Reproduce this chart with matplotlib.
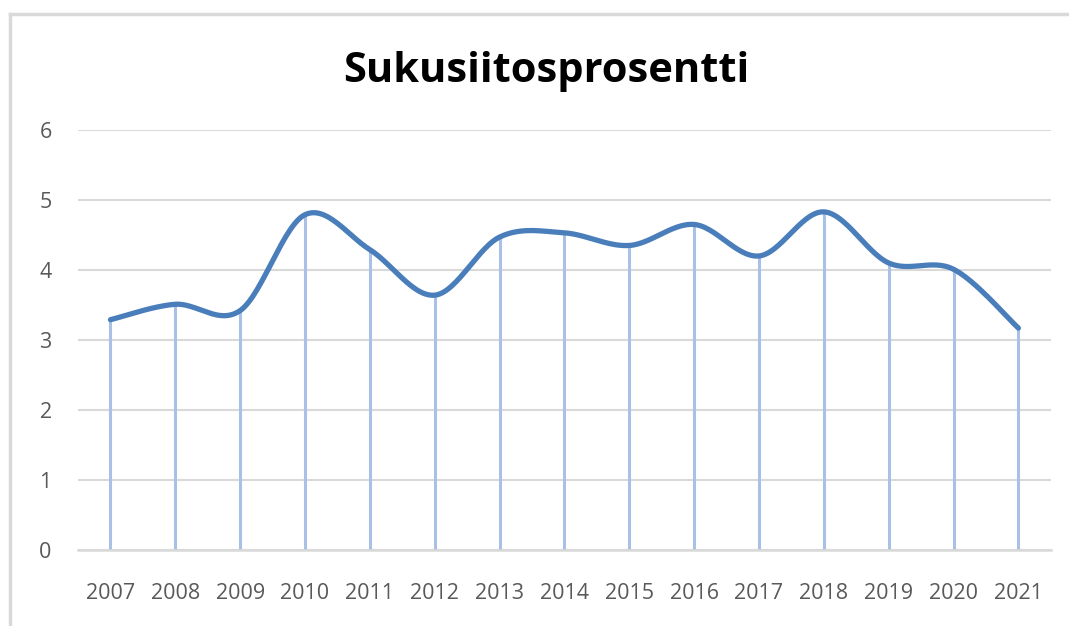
import numpy as np
import matplotlib
matplotlib.use('Agg')
import matplotlib.pyplot as plt
from matplotlib.lines import Line2D

# Data
years = ['2007', '2008', '2009', '2010', '2011', '2012', '2013', '2014',
         '2015', '2016', '2017', '2018', '2019', '2020', '2021']
values = [3.29, 3.51, 3.42, 4.79, 4.29, 3.64, 4.47, 4.53,
          4.35, 4.65, 4.20, 4.83, 4.10, 4.01, 3.17]
yticks = [0, 1, 2, 3, 4, 5, 6]

title = 'Sukusiitosprosentti'
line_col = '#4a7ebb'
drop_col = '#a9c1e6'
grid_col = '#d9d9d9'
text_col = '#595959'


def smooth(x, y, n=30):
    # Catmull-Rom style smoothing, like the "smoothed line" option in a spreadsheet
    x = np.asarray(x, float)
    y = np.asarray(y, float)
    px = np.concatenate([[x[0]], x, [x[-1]]])
    py = np.concatenate([[y[0]], y, [y[-1]]])
    xs, ys = [], []
    t = np.linspace(0, 1, n, endpoint=False)
    for i in range(1, len(px) - 2):
        p0x, p1x, p2x, p3x = px[i - 1], px[i], px[i + 1], px[i + 2]
        p0y, p1y, p2y, p3y = py[i - 1], py[i], py[i + 1], py[i + 2]
        c1x = p1x + (p2x - p0x) / 6.0
        c1y = p1y + (p2y - p0y) / 6.0
        c2x = p2x - (p3x - p1x) / 6.0
        c2y = p2y - (p3y - p1y) / 6.0
        b0 = (1 - t) ** 3
        b1 = 3 * (1 - t) ** 2 * t
        b2 = 3 * (1 - t) * t ** 2
        b3 = t ** 3
        xs.append(b0 * p1x + b1 * c1x + b2 * c2x + b3 * p2x)
        ys.append(b0 * p1y + b1 * c1y + b2 * c2y + b3 * p2y)
    xs.append([x[-1]])
    ys.append([y[-1]])
    return np.concatenate(xs), np.concatenate(ys)


fig = plt.figure(figsize=(10.69, 6.26), dpi=100)
ax = fig.add_axes([0.073, 0.1214, 0.910, 0.671])

xpos = np.arange(len(years))

# drop lines from the points to the axis
ax.vlines(xpos, 0, values, color=drop_col, linewidth=2.2, zorder=2)

sx, sy = smooth(xpos, values)
ax.plot(sx, sy, color=line_col, linewidth=3.8, solid_capstyle='round', zorder=3)

ax.set_xlim(-0.5, len(years) - 0.5)
ax.set_ylim(0, 6)
ax.set_yticks(yticks)
ax.set_xticks(xpos)
ax.set_xticklabels(years)
ax.grid(True, axis='y', color=grid_col, linewidth=1.5)
ax.set_axisbelow(True)
for s in ['top', 'right', 'left']:
    ax.spines[s].set_visible(False)
ax.spines['bottom'].set_color(grid_col)
ax.spines['bottom'].set_linewidth(1.8)
ax.tick_params(length=0, labelcolor=text_col, labelsize=15.5)
ax.tick_params(axis='x', pad=24)
ax.tick_params(axis='y', pad=19)
for lab in ax.get_xticklabels() + ax.get_yticklabels():
    lab.set_family('Open Sans')

fig.text(0.511, 0.886, title, ha='center', va='center', fontsize=30,
         fontweight='bold', family='Open Sans', color='black')

# chart frame (only top and left edges are visible)
fig.add_artist(Line2D([10 / 1069, 1.0], [1 - 14 / 626, 1 - 14 / 626],
                      transform=fig.transFigure, color=grid_col, linewidth=2.5))
fig.add_artist(Line2D([10 / 1069, 10 / 1069], [0.0, 1 - 14 / 626],
                      transform=fig.transFigure, color=grid_col, linewidth=2.5))

fig.savefig('out.png', dpi=100)
